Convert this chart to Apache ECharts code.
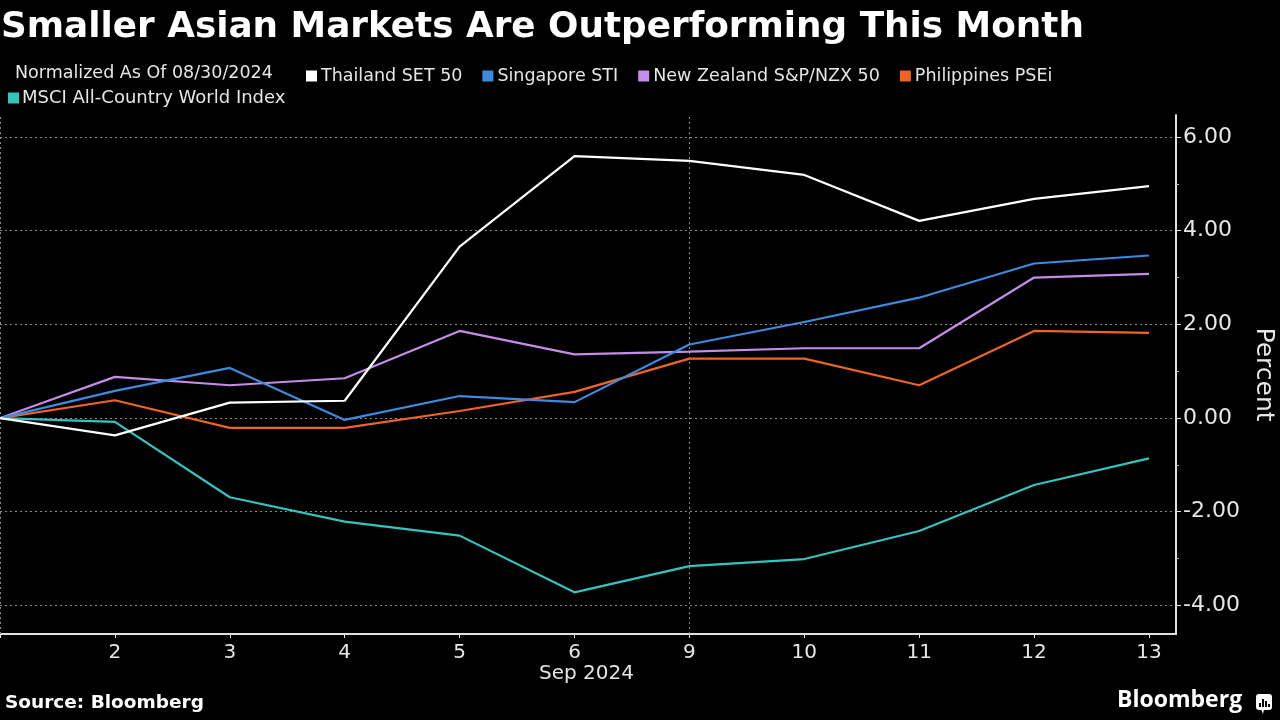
<!DOCTYPE html>
<html>
<head>
<meta charset="utf-8">
<script src="https://cdn.jsdelivr.net/npm/echarts@6/dist/echarts.min.js"></script>
<style>
html,body{margin:0;padding:0;background:#000;}
#chart{width:1280px;height:720px;}
</style>
</head>
<body>
<div id="chart"></div>
<script>
// ---- Data ----
const dates = ['08/30', '2', '3', '4', '5', '6', '9', '10', '11', '12', '13'];
const thailand    = [0, -0.37, 0.33, 0.37, 3.66, 5.59, 5.49, 5.19, 4.21, 4.68, 4.95];
const singapore   = [0, 0.58, 1.07, -0.04, 0.47, 0.34, 1.57, 2.05, 2.57, 3.30, 3.47];
const newZealand  = [0, 0.88, 0.70, 0.85, 1.86, 1.36, 1.42, 1.49, 1.49, 3.00, 3.08];
const philippines = [0, 0.38, -0.21, -0.21, 0.15, 0.56, 1.27, 1.27, 0.70, 1.86, 1.82];
const msci        = [0, -0.08, -1.69, -2.21, -2.51, -3.72, -3.16, -3.01, -2.41, -1.43, -0.86];
const yTicks = [-4, -2, 0, 2, 4, 6];
const yMinorTicks = [-3, -1, 1, 3, 5];
const seriesNames = ['Thailand SET 50', 'Singapore STI', 'New Zealand S&P/NZX 50', 'Philippines PSEi', 'MSCI All-Country World Index'];
const seriesData = [thailand, singapore, newZealand, philippines, msci];
const colors = ['#ffffff', '#3d8bdf', '#c58de8', '#ef6424', '#33c4bf'];

const FONT = '"DejaVu Sans", sans-serif';
const idx = dates.map((d, i) => i);

const chart = echarts.init(document.getElementById('chart'));

const series = seriesData.map((arr, s) => ({
  name: seriesNames[s],
  type: 'line',
  data: arr.map((v, i) => [i, v]),
  showSymbol: false,
  symbol: 'none',
  lineStyle: { color: colors[s], width: 2.2 },
  itemStyle: { color: colors[s] },
  z: 10 - s,
  animation: false,
  markLine: s === 0 ? {
    silent: true,
    symbol: 'none',
    label: { show: false },
    lineStyle: { color: '#8a8a8a', type: [2, 3], width: 1 },
    data: [{ xAxis: 0 }, { xAxis: 6 }],
    animation: false
  } : undefined
}));

const option = {
  backgroundColor: '#000000',
  animation: false,
  textStyle: { fontFamily: FONT },
  title: {
    text: 'Smaller Asian Markets Are Outperforming This Month',
    left: -4, top: 5,
    textStyle: { color: '#ffffff', fontSize: 35.8, fontWeight: 'bold', fontFamily: FONT }
  },
  legend: [{
    data: seriesNames.slice(0, 4),
    left: 306, top: 67, padding: 0,
    icon: 'rect', itemWidth: 11, itemHeight: 11, itemGap: 20,
    textStyle: { color: '#e6e6e6', fontSize: 17.5, fontFamily: FONT, padding: [0, 0, 0, -1] }
  }, {
    data: seriesNames.slice(4),
    left: 8, top: 89, padding: 0,
    icon: 'rect', itemWidth: 11, itemHeight: 11,
    textStyle: { color: '#e6e6e6', fontSize: 18, fontFamily: FONT, padding: [0, 0, 0, -2] }
  }],
  graphic: [
    { type: 'text', left: 15, top: 64, style: { text: 'Normalized As Of 08/30/2024', fill: '#e6e6e6', font: '17.5px ' + FONT } },
    { type: 'text', left: 539, top: 664, style: { text: 'Sep 2024', fill: '#e6e6e6', font: '20px ' + FONT } },
    { type: 'text', left: 5, top: 694, style: { text: 'Source: Bloomberg', fill: '#ffffff', font: 'bold 18.5px ' + FONT } },
    { type: 'text', left: 1117, top: 689, style: { text: 'Bloomberg', fill: '#ffffff', font: 'bold 23px "Open Sans", Lato, sans-serif' } },
    { type: 'rect', left: 1256, top: 694, shape: { width: 16, height: 16, r: 3 }, style: { fill: '#ffffff' } },
    { type: 'polygon', shape: { points: [[1261, 709], [1264, 709], [1263, 714]] }, style: { fill: '#ffffff' } },
    { type: 'rect', shape: { x: 1259, y: 703, width: 2, height: 4 }, style: { fill: '#000' } },
    { type: 'rect', shape: { x: 1262, y: 699, width: 2, height: 8 }, style: { fill: '#000' } },
    { type: 'rect', shape: { x: 1265, y: 701, width: 2, height: 6 }, style: { fill: '#000' } },
    { type: 'rect', shape: { x: 1268, y: 704, width: 2, height: 3 }, style: { fill: '#000' } }
  ],
  grid: { left: 0, right: 104, top: 115, bottom: 86, containLabel: false, outerBoundsMode: 'none' },
  xAxis: {
    type: 'value',
    min: 0,
    max: 10.235,
    axisLine: { show: true, onZero: false, lineStyle: { color: '#e0e0e0', width: 2 } },
    axisTick: { show: true, length: 4, customValues: idx, lineStyle: { color: '#e0e0e0' } },
    axisLabel: {
      customValues: idx.slice(1),
      color: '#e6e6e6', fontSize: 20, fontFamily: FONT, margin: 9,
      formatter: v => dates[Math.round(v)]
    },
    splitLine: { show: false }
  },
  yAxis: [{
    type: 'value',
    position: 'right',
    min: -4.61,
    max: 6.47,
    name: 'Percent',
    nameLocation: 'middle',
    nameRotate: -90,
    nameGap: 75,
    nameTextStyle: { color: '#e6e6e6', fontSize: 25, fontFamily: FONT },
    axisLine: { show: true, onZero: false, lineStyle: { color: '#e0e0e0', width: 2 } },
    axisTick: { show: true, length: 5, customValues: yTicks, lineStyle: { color: '#e0e0e0' } },
    axisLabel: {
      customValues: yTicks,
      color: '#e6e6e6', fontSize: 22, fontFamily: FONT, margin: 7,
      formatter: v => v.toFixed(2)
    },
    splitLine: { show: true, lineStyle: { color: '#8a8a8a', type: [2, 3], width: 1 } }
  }, {
    type: 'value',
    position: 'right',
    min: -4.61,
    max: 6.47,
    axisLine: { show: false, onZero: false },
    axisTick: { show: true, length: 3, customValues: yMinorTicks, lineStyle: { color: '#bbbbbb' } },
    axisLabel: { show: false, customValues: yMinorTicks },
    splitLine: { show: false }
  }],
  series: series
};
chart.setOption(option);
</script>
</body>
</html>
